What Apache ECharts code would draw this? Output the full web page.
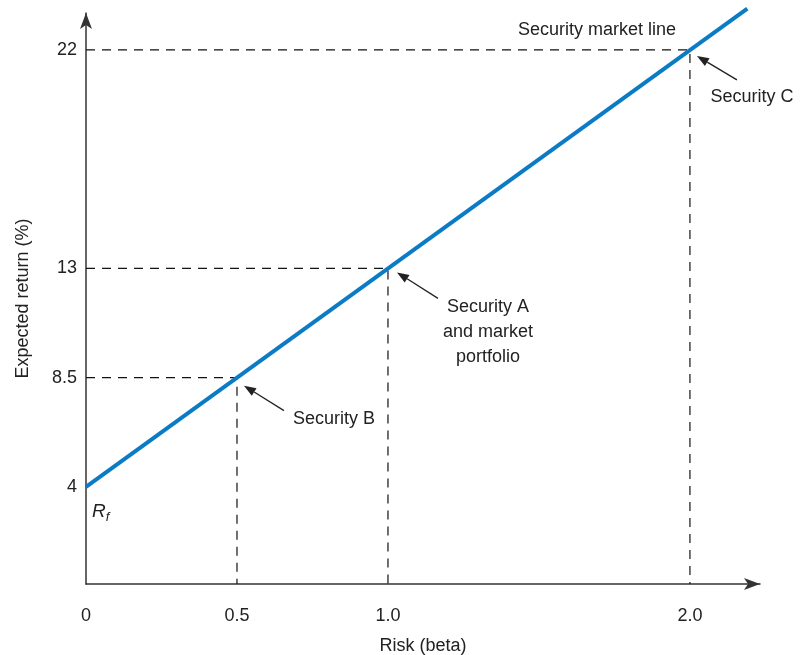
<!DOCTYPE html>
<html><head><meta charset="utf-8">
<script src="https://cdn.jsdelivr.net/npm/echarts@6/dist/echarts.min.js"></script>
<style>html,body{margin:0;padding:0;background:#fff}#c{width:802px;height:655px}</style>
</head><body><div id="c"></div>
<script>
// ---- data ----
const betaTicks = [0, 0.5, 1.0, 2.0];
const betaTickLabels = ['0', '0.5', '1.0', '2.0'];
const returnTicks = [4, 8.5, 13, 22];
const returnTickLabels = ['4', '8.5', '13', '22'];
const securityNames = ['Security B', 'Security A\nand market\nportfolio', 'Security C'];
const securityBeta = [0.5, 1.0, 2.0];
const securityReturn = [8.5, 13, 22];
const smlBeta = [0, 2.19];
const smlReturn = [4, 23.7];
const riskFreeBeta = 0;
const riskFreeReturn = 4;
const smlTitle = 'Security market line';

// ---- styles ----
const FONT = 'Liberation Sans, Arial, sans-serif';
const TXT = '#222';
const AX = '#333';
const BLUE = '#0a7bc4';

const chart = echarts.init(document.getElementById('c'), null, {renderer: 'canvas'});

const dashedSeries = securityBeta.map((b, i) => ({
  type: 'line',
  data: [[0, securityReturn[i]], [b, securityReturn[i]], [b, 0]],
  symbol: 'none',
  silent: true,
  z: 1,
  lineStyle: {color: '#111', width: 1.2, type: [9, 7]}
}));

chart.setOption({
  animation: false,
  backgroundColor: '#fff',
  grid: {left: 86, right: 42, top: 13, bottom: 71, outerBoundsMode: 'none', containLabel: false},
  xAxis: {
    type: 'value', min: 0, max: 2.232,
    splitLine: {show: false}, axisTick: {show: false},
    axisLine: {show: true, symbol: ['none', 'arrow'], symbolSize: [9, 16], lineStyle: {color: AX, width: 1.5}},
    axisLabel: {
      customValues: betaTicks, margin: 23, fontSize: 18, fontFamily: FONT, color: TXT,
      formatter: v => betaTickLabels[betaTicks.indexOf(v)] ?? ''
    },
    name: 'Risk (beta)', nameLocation: 'middle', nameGap: 53,
    nameTextStyle: {fontSize: 18, fontFamily: FONT, color: TXT}
  },
  yAxis: {
    type: 'value', min: 0, max: 23.52,
    splitLine: {show: false}, axisTick: {show: false},
    axisLine: {show: true, symbol: ['none', 'arrow'], symbolSize: [9, 16], lineStyle: {color: AX, width: 1.5}},
    axisLabel: {
      customValues: returnTicks, margin: 9, fontSize: 18, fontFamily: FONT, color: TXT,
      formatter: v => returnTickLabels[returnTicks.indexOf(v)] ?? ''
    },
    name: 'Expected return (%)', nameLocation: 'middle', nameGap: 54, nameRotate: 90,
    nameTextStyle: {fontSize: 18, fontFamily: FONT, color: TXT}
  },
  series: [
    ...dashedSeries,
    {
      type: 'line',
      data: smlBeta.map((b, i) => [b, smlReturn[i]]),
      symbol: 'none', clip: false, z: 5,
      lineStyle: {color: BLUE, width: 4}
    }
  ]
});

// ---- annotations positioned from data via the chart's scales ----
function px(x, y) { return chart.convertToPixel({gridIndex: 0}, [x, y]); }
function arrow(sx, sy, tx, ty) {
  const ang = Math.atan2(ty - sy, tx - sx);
  const L = 12, W = 4.5;
  const bx = tx - L * Math.cos(ang), by = ty - L * Math.sin(ang);
  const nx = -Math.sin(ang), ny = Math.cos(ang);
  return [
    {type: 'line', shape: {x1: sx, y1: sy, x2: bx, y2: by}, style: {stroke: '#222', lineWidth: 1.3}, z: 10},
    {type: 'polygon', shape: {points: [[tx, ty], [bx + nx * W, by + ny * W], [bx - nx * W, by - ny * W]]}, style: {fill: '#222'}, z: 10}
  ];
}
function text(t, x, y, extra) {
  return Object.assign({
    type: 'text', z: 10,
    style: {text: t, x: x, y: y, align: 'center', verticalAlign: 'middle', font: '18px ' + FONT, fill: TXT, lineHeight: 25}
  }, extra || {});
}

// offsets (pixels) of label and arrow relative to each security point
const labelOffsets = [[97, 41], [100, 64], [62, 47]];
const arrowStart = [[47, 33], [50, 30], [47, 30]];
const arrowTip = [[7, 8], [9, 4], [7, 6]];

const g = [];
securityBeta.forEach((b, i) => {
  const p = px(b, securityReturn[i]);
  g.push(text(securityNames[i], p[0] + labelOffsets[i][0], p[1] + labelOffsets[i][1]));
  g.push(...arrow(p[0] + arrowStart[i][0], p[1] + arrowStart[i][1], p[0] + arrowTip[i][0], p[1] + arrowTip[i][1]));
});
const pc = px(securityBeta[2], securityReturn[2]);
g.push(text(smlTitle, pc[0] - 93, pc[1] - 20));
const pr = px(riskFreeBeta, riskFreeReturn);
g.push({
  type: 'text', z: 10,
  style: {
    text: '{r|R}{s|f}', x: pr[0] + 6, y: pr[1] + 25, verticalAlign: 'middle', align: 'left',
    rich: {
      r: {font: 'italic 19px ' + FONT, fill: TXT},
      s: {font: 'italic 13px ' + FONT, fill: TXT, padding: [10, 0, 0, 0]}
    }
  }
});
chart.setOption({graphic: g});
</script>
</body></html>
